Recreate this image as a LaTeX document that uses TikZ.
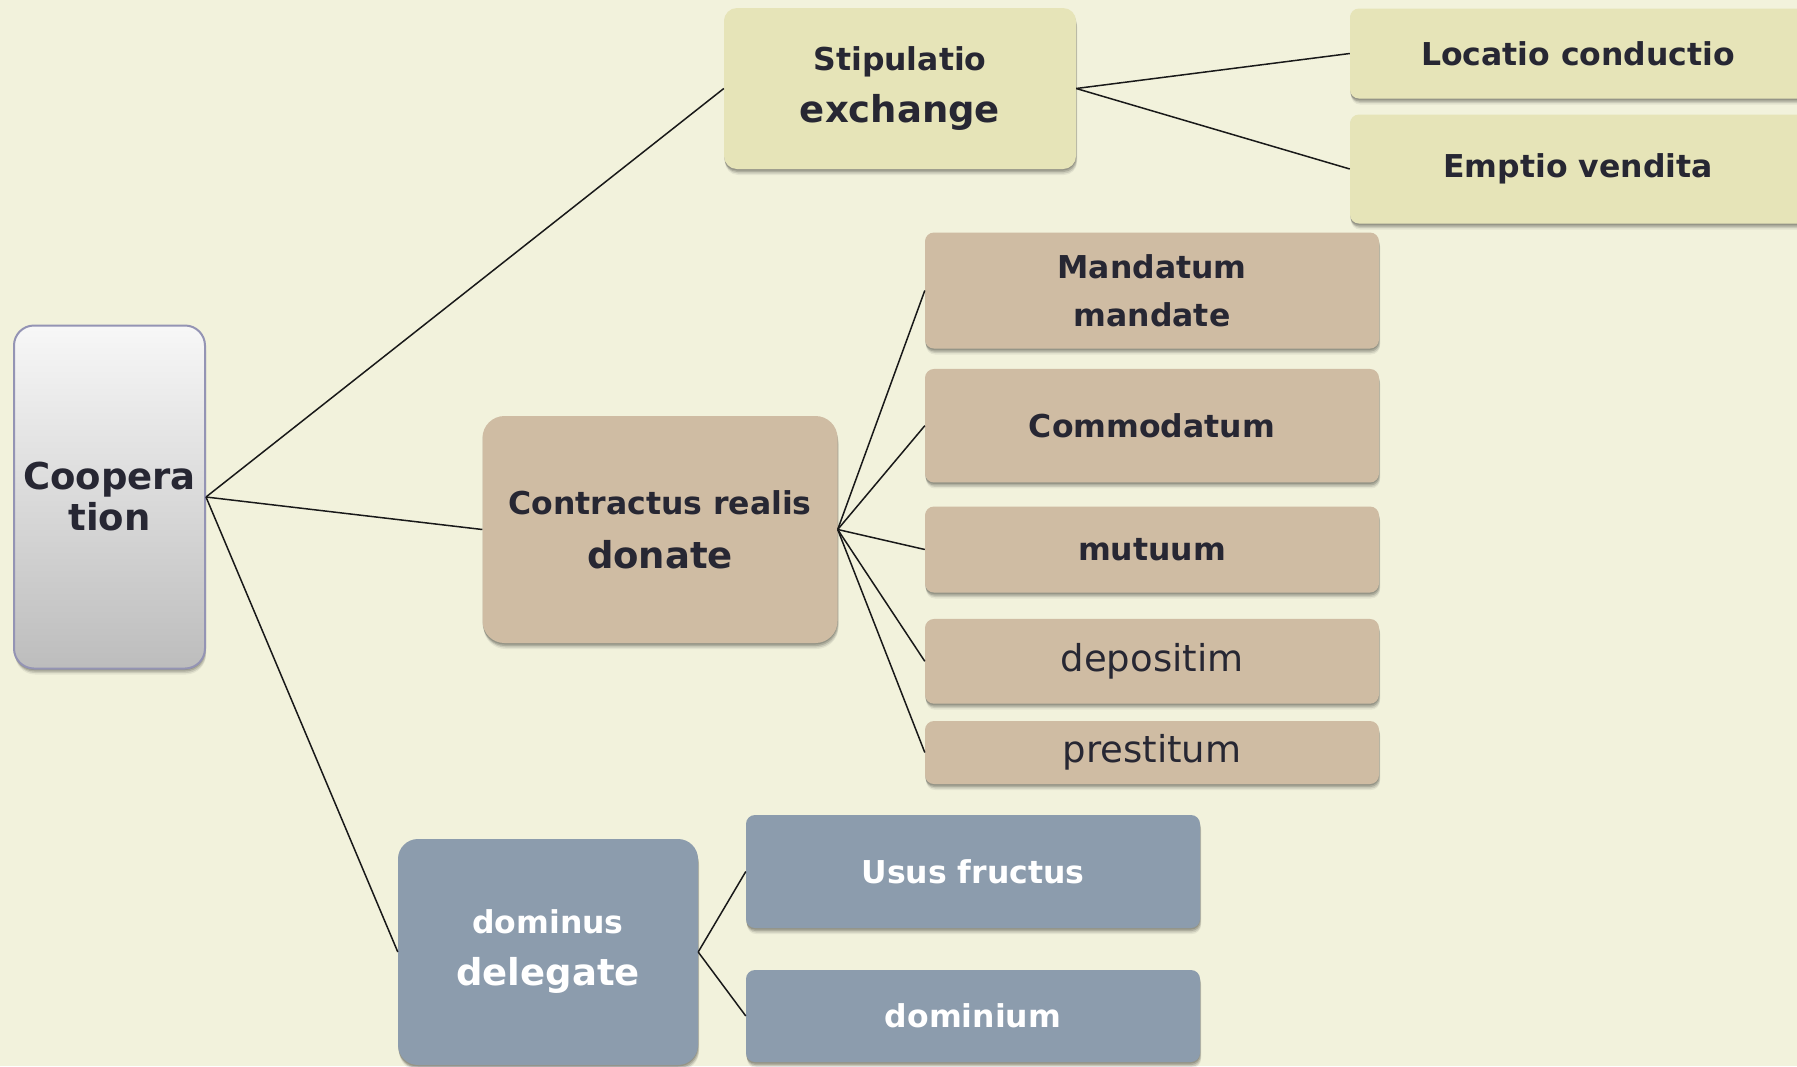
\documentclass[tikz,border=0pt]{standalone}
\usepackage{fontspec}
\setmainfont{DejaVu Sans}
\usetikzlibrary{shadows}

\definecolor{bgcream}{HTML}{F2F2DC}
\definecolor{ink}{HTML}{272733}
\definecolor{olivebox}{HTML}{E6E4B8}
\definecolor{tanbox}{HTML}{CFBCA3}
\definecolor{slatebox}{HTML}{8C9CAD}
\definecolor{rootedge}{HTML}{9494B4}

\begin{document}
\begin{tikzpicture}[x=1pt,y=-1pt,
  soft shadow/.style={
    general shadow={shadow xshift=1pt, shadow yshift=-6pt, opacity=0.06, fill=black},
    general shadow={shadow xshift=1pt, shadow yshift=-4.5pt, opacity=0.10, fill=black},
    general shadow={shadow xshift=0.5pt, shadow yshift=-3pt, opacity=0.14, fill=black},
    general shadow={shadow xshift=0pt, shadow yshift=-1.5pt, opacity=0.14, fill=black}},
  box/.style={rectangle, rounded corners=#1, inner sep=0pt, align=center,
    text=ink, font=\bfseries\fontsize{31.5}{48}\selectfont, soft shadow},
  box/.default=9pt,
  olive/.style={box=#1, fill=olivebox},
  olive/.default=9pt,
  tan/.style={box=#1, fill=tanbox},
  tan/.default=9pt,
  slate/.style={box=#1, fill=slatebox, text=white},
  slate/.default=9pt,
  plain/.style={font=\fontsize{37}{48}\selectfont},
  link/.style={draw=black!90, line width=1.5pt}
]
\useasboundingbox (0,0) rectangle (1797,1066);
\fill[bgcream] (0,0) rectangle (1797,1066);

\begin{scope}
\clip (0,0) rectangle (1797,1066);

% root
\node[box=20pt, top color=white!97!black, bottom color=black!26, draw=rootedge, line width=2pt,
      font=\bfseries\fontsize{37}{41}\selectfont,
      minimum width=191pt, minimum height=343pt] (coop) at (109.5,497) {Coopera\\tion};

% first level
\node[olive=13pt, minimum width=352pt, minimum height=161pt,
      font=\bfseries\fontsize{31.5}{52}\selectfont] (stip) at (900,88.5)
      {\raisebox{-2pt}{Stipulatio}\\{\fontsize{37}{52}\selectfont \raisebox{-2pt}{exchange}}};
\node[tan=22pt, minimum width=355pt, minimum height=227pt,
      font=\bfseries\fontsize{31.5}{54}\selectfont] (real) at (660,529.5)
      {Contractus realis\\{\fontsize{37}{54}\selectfont donate}};
\node[slate=20pt, minimum width=300pt, minimum height=226pt,
      font=\bfseries\fontsize{31.5}{52}\selectfont] (domi) at (548,952)
      {\raisebox{-3pt}{dominus}\\{\fontsize{37}{52}\selectfont \raisebox{-3pt}{delegate}}};

% exchange contracts
\node[olive, minimum width=456pt, minimum height=90pt] (loca) at (1578,53.5) {Locatio conductio};
\node[olive, minimum width=456pt, minimum height=109pt] (empt) at (1578,169) {Emptio vendita};

% real contracts
\node[tan, minimum width=454pt, minimum height=116pt] (mand) at (1152,290.5) {Mandatum\\mandate};
\node[tan, minimum width=454pt, minimum height=113.5pt] (comm) at (1152,425.7) {Commodatum};
\node[tan, minimum width=454pt, minimum height=86pt] (mutu) at (1152,549.5) {mutuum};
\node[tan, plain, minimum width=454pt, minimum height=84.7pt] (depo) at (1152,661.3) {depositim};
\node[tan, plain, minimum width=454pt, minimum height=63pt] (pres) at (1152,752.5) {prestitum};

% ownership
\node[slate, minimum width=454pt, minimum height=113pt] (usus) at (973,871.5) {Usus fructus};
\node[slate, minimum width=454pt, minimum height=92pt] (domn) at (973,1016) {dominium};

% connectors
\draw[link] (coop.east) -- (stip.west);
\draw[link] (coop.east) -- (real.west);
\draw[link] (coop.east) -- (domi.west);
\draw[link] (stip.east) -- (loca.west);
\draw[link] (stip.east) -- (empt.west);
\foreach \k in {mand,comm,mutu,depo,pres}
  \draw[link] (real.east) -- (\k.west);
\draw[link] (domi.east) -- (usus.west);
\draw[link] (domi.east) -- (domn.west);
\end{scope}
\end{tikzpicture}
\end{document}
